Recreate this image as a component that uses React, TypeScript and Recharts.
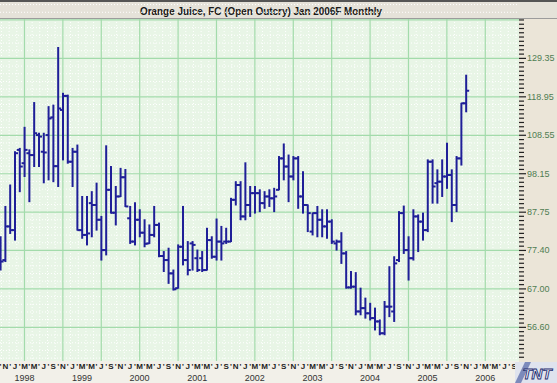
import React from 'react';
import { ComposedChart, Bar, XAxis, YAxis, CartesianGrid } from 'recharts';

// monthly bars, first one is Oct 1997
const startYear = 1997;
const startMonth = 9;
const monthCodes = ['J', "'", 'M', "'", 'M', "'", 'J', "'", 'S', "'", 'N', "'"];
const priceTicks = [56.6, 67.0, 77.4, 87.75, 98.15, 108.55, 118.95, 129.35];

const opens = [
  76.6, 74.8, 83.9, 82.9, 104.6, 101.0, 103.7, 103.2, 108.6, 104.1,
  108.6, 113.4, 100.2, 115.4, 119.2, 101.4, 104.1, 82.9, 81.6, 90.2,
  89.7, 85.7, 77.5, 93.8, 87.6, 92.0, 97.2, 86.1, 79.8, 85.7,
  82.2, 79.3, 81.6, 84.3, 75.9, 74.8, 71.2, 67.2, 78.4, 74.8,
  79.3, 75.3, 75.3, 72.1, 80.2, 75.7, 79.8, 79.8, 79.8, 91.1,
  95.1, 86.6, 89.7, 92.9, 92.9, 90.2, 92.0, 91.5, 93.8, 102.3,
  100.1, 97.4, 102.3, 92.0, 89.7, 82.5, 87.5, 85.7, 83.9, 85.2,
  79.3, 79.8, 76.6, 67.4, 67.6, 60.9, 61.8, 60.4, 59.1, 58.2,
  55.0, 62.2, 60.9, 74.8, 87.5, 77.5, 75.3, 86.6, 85.2, 82.9,
  101.4, 95.6, 96.0, 97.4, 97.8, 89.7, 102.3, 117.2,
];

const highs = [
  81.1, 89.3, 95.1, 104.1, 105.0, 110.7, 104.6, 117.4, 109.1, 109.1,
  116.3, 116.7, 132.3, 119.9, 119.4, 105.0, 105.9, 92.0, 92.0, 93.3,
  95.6, 86.6, 105.7, 100.1, 94.7, 99.6, 99.3, 89.3, 90.3, 88.4,
  85.7, 84.3, 89.3, 84.8, 77.1, 78.0, 72.1, 78.9, 89.3, 79.8,
  79.8, 77.5, 77.1, 83.4, 81.1, 85.9, 83.9, 83.4, 91.5, 96.0,
  96.0, 101.1, 94.7, 94.7, 93.8, 93.3, 93.8, 94.2, 102.8, 106.2,
  103.2, 102.8, 102.8, 98.7, 89.7, 87.5, 89.3, 88.4, 88.4, 85.7,
  80.2, 82.2, 77.1, 71.7, 71.4, 67.2, 64.5, 63.1, 61.8, 58.6,
  63.6, 73.0, 75.7, 87.9, 89.4, 81.1, 88.4, 87.0, 87.5, 101.9,
  101.9, 99.2, 101.9, 106.4, 99.2, 102.8, 117.2, 124.8,
];

const lows = [
  72.1, 74.4, 82.0, 80.2, 93.3, 97.4, 90.6, 100.1, 100.1, 95.7,
  96.5, 96.0, 94.7, 101.9, 101.0, 94.7, 82.9, 80.7, 78.9, 81.1,
  82.9, 74.8, 76.2, 87.5, 84.3, 92.0, 89.3, 79.3, 78.9, 81.1,
  78.4, 79.3, 81.1, 75.7, 71.7, 68.5, 66.7, 67.2, 73.5, 70.8,
  72.1, 71.7, 71.7, 72.1, 75.3, 74.8, 74.8, 79.3, 79.8, 89.7,
  85.7, 85.7, 86.6, 87.5, 87.9, 88.8, 89.3, 87.9, 93.8, 96.5,
  90.6, 96.5, 88.8, 87.5, 82.5, 81.6, 81.1, 81.1, 80.7, 79.3,
  77.5, 73.9, 67.2, 67.2, 60.0, 60.0, 59.1, 58.6, 55.9, 54.6,
  54.6, 59.5, 58.2, 74.4, 76.6, 69.4, 74.8, 77.1, 80.2, 82.5,
  90.2, 90.2, 92.0, 94.2, 85.2, 87.9, 100.5, 114.9,
];

const closes = [
  74.4, 83.9, 82.9, 103.7, 100.1, 104.6, 103.2, 109.1, 108.2, 103.9,
  113.1, 100.2, 115.8, 119.2, 101.4, 104.1, 82.9, 81.6, 82.0, 89.7,
  85.7, 77.5, 93.8, 87.6, 92.0, 97.2, 89.3, 79.8, 85.7, 82.2,
  79.2, 81.6, 84.3, 75.9, 74.8, 71.2, 66.9, 78.4, 74.8, 72.1,
  78.9, 72.1, 72.1, 80.2, 75.7, 79.8, 79.3, 79.8, 91.1, 95.1,
  86.6, 89.7, 92.9, 92.9, 90.2, 92.0, 91.5, 92.0, 102.3, 100.1,
  97.4, 102.3, 92.0, 89.7, 87.5, 87.5, 85.7, 83.9, 85.2, 79.8,
  79.8, 76.6, 67.4, 67.6, 60.9, 61.8, 60.4, 59.1, 58.2, 55.0,
  62.2, 62.2, 73.9, 87.5, 77.5, 75.3, 86.6, 85.2, 82.9, 101.4,
  94.7, 96.0, 97.4, 97.8, 89.7, 102.3, 117.2, 120.6,
];

const data = highs.map((h, i) => ({
  i,
  range: [lows[i], h],
  h,
  l: lows[i],
  o: opens[i],
  c: closes[i],
}));

// axis runs out to Oct 2006
const monthSlots = Array.from({ length: 109 }, (_, i) => i);

// square grid, 8 months / one price step per cell
const gridMonths = [5, 13, 21, 29, 37, 45, 53, 61, 69, 77, 85, 93, 101];
const priceStep = 10.393;
const gridPrices = [...priceTicks, 139.74];
const minorMonths: number[] = [];
[-3, ...gridMonths].forEach((g) => {
  for (let k = 1; k < 5; k++) minorMonths.push(g + k * 1.6);
});
const minorPrices: number[] = [];
[46.2, ...gridPrices].forEach((g) => {
  for (let k = 1; k < 5; k++) minorPrices.push(g + (k * priceStep) / 5);
});
const axisTicks: number[] = [];
[46.2, ...gridPrices].forEach((g) => {
  axisTicks.push(g);
  for (let k = 1; k < 9; k++) axisTicks.push(g + (k * priceStep) / 9);
});
const yTicks = axisTicks.filter((v) => v > 47.6 && v < 139.9);

const X_DOMAIN: [number, number] = [-0.1, 108.025];
const Y_DOMAIN: [number, number] = [47.5, 140];

// grid lines go through the axis scales so they sit under the bars
const xCoords = (values: number[]) => (props: any) => {
  const scale = props?.xAxis?.scale;
  if (typeof scale === 'function') return values.map((v) => scale(v));
  const { left, width } = props.offset;
  return values.map((v) => left + ((v - X_DOMAIN[0]) / (X_DOMAIN[1] - X_DOMAIN[0])) * width);
};
const yCoords = (values: number[]) => (props: any) => {
  const scale = props?.yAxis?.scale;
  if (typeof scale === 'function') return values.map((v) => scale(v));
  const { top, height } = props.offset;
  return values.map((v) => top + ((Y_DOMAIN[1] - v) / (Y_DOMAIN[1] - Y_DOMAIN[0])) * height);
};

const OhlcShape = (props: any) => {
  const { x, y, width, height, payload } = props;
  if (!payload || height == null || isNaN(y)) return null;
  const top = Math.min(y, y + height);
  const span = Math.abs(height);
  const cx = x + width / 2;
  const toY = (v: number) => top + ((payload.h - v) / (payload.h - payload.l || 1)) * span;
  const yo = toY(payload.o);
  const yc = toY(payload.c);
  return (
    <g stroke="#1f1f98" strokeWidth={2}>
      <line x1={cx} x2={cx} y1={top - 0.5} y2={top + span + 0.5} />
      <line x1={cx - 3} x2={cx} y1={yo} y2={yo} />
      <line x1={cx} x2={cx + 3} y1={yc} y2={yc} />
    </g>
  );
};

const MonthTick = (props: any) => {
  const { x, y, payload } = props;
  const n = startMonth + payload.value;
  const m = n % 12;
  const yr = startYear + Math.floor(n / 12);
  return (
    <g>
      <text x={x} y={y + 8} textAnchor="middle" fontSize={8} fontWeight="bold" fill="#222"
        fontFamily="Liberation Sans, Arial, sans-serif">
        {monthCodes[m]}
      </text>
      {m === 0 && (
        <text x={x - 0.5} y={y + 20} fontSize={9} fill="#333" fontFamily="Liberation Sans, Arial, sans-serif">
          {yr}
        </text>
      )}
    </g>
  );
};

const PriceTick = (props: any) => {
  const { x, y, payload } = props;
  const major = priceTicks.find((t) => Math.abs(t - payload.value) < 0.01);
  return (
    <g>
      <line x1={x} x2={x + (major !== undefined ? 7 : 5)} y1={y} y2={y} stroke="#222" strokeWidth={1.2} />
      {major !== undefined && (
        <text x={x + 8} y={y + 3} fontSize={9} fill="#4f7d52" fontFamily="Liberation Sans, Arial, sans-serif">
          {major.toFixed(2)}
        </text>
      )}
    </g>
  );
};

export default function App() {
  return (
    <div style={{ position: 'absolute', left: 0, top: 0, width: 557, height: 383, overflow: 'hidden', background: '#ebe5d8' }}>
      <div style={{ position: 'absolute', left: 0, top: 0, width: 557, height: 18, background: '#e5e2d9', borderTop: '2px solid #555', boxSizing: 'border-box' }} />
      <div style={{ position: 'absolute', left: 0, top: 18, width: 557, height: 1, background: '#9c9c9c' }} />
      <div style={{ position: 'absolute', left: 0, top: 361, width: 519, height: 22, background: '#f2f0e9' }} />
      <svg width={557} height={19} style={{ position: 'absolute', left: 0, top: 0 }}>
        <text x={261} y={15} textAnchor="middle" fontSize={11.5} fontWeight="bold" fill="#1a1a1a"
          fontFamily="Liberation Sans, Arial, sans-serif" textLength={242} lengthAdjust="spacingAndGlyphs">
          Orange Juice, FC (Open Outcry) Jan 2006F Monthly
        </text>
      </svg>
      <div style={{ position: 'absolute', left: 0, top: 0 }}>
        <ComposedChart width={557} height={383} data={data} margin={{ top: 19, right: 0, bottom: 0, left: 0 }}>
          <CartesianGrid
            fill="#e8f5e6"
            stroke="#ffffff"
            strokeDasharray="1 2"
            horizontalCoordinatesGenerator={yCoords(minorPrices)}
            verticalCoordinatesGenerator={xCoords(minorMonths)}
          />
          <CartesianGrid
            stroke="#a3dbab"
            strokeWidth={1.2}
            horizontalCoordinatesGenerator={yCoords(gridPrices)}
            verticalCoordinatesGenerator={xCoords(gridMonths)}
          />
          <XAxis
            dataKey="i"
            type="number"
            domain={X_DOMAIN}
            allowDataOverflow
            ticks={monthSlots}
            interval={0}
            tick={<MonthTick />}
            tickSize={0}
            tickMargin={0}
            tickLine={false}
            axisLine={false}
            height={22}
          />
          <YAxis
            orientation="right"
            type="number"
            domain={Y_DOMAIN}
            allowDataOverflow
            ticks={yTicks}
            interval={0}
            tick={<PriceTick />}
            tickSize={0}
            tickMargin={0}
            tickLine={false}
            axisLine={false}
            width={38}
          />
          <Bar dataKey="range" barSize={3} shape={<OhlcShape />} isAnimationActive={false} />
        </ComposedChart>
      </div>
      <svg width={42} height={21} style={{ position: 'absolute', left: 515, top: 362 }}>
        <rect x={0} y={0} width={42} height={21} fill="#dfe3ee" />
        <path d="M0 21 L10 0 L16 0 L6 21 Z" fill="#3a4f9a" opacity={0.6} />
        <text x={22} y={17} textAnchor="middle" fontSize={15} fontWeight="bold" fontStyle="italic"
          fill="#f4f6fb" stroke="#1d2d70" strokeWidth={0.9} fontFamily="Liberation Sans, Arial, sans-serif">
          TNT
        </text>
      </svg>
    </div>
  );
}
